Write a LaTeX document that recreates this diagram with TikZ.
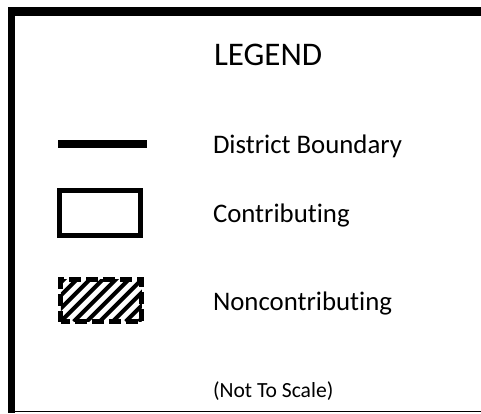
\documentclass[tikz,border=0pt]{standalone}
\usepackage{fontspec}
\setmainfont{Carlito}[Ligatures={NoCommon}]
\begin{document}
\begin{tikzpicture}[x=1pt,y=-1pt,
  every node/.style={inner sep=0pt, outer sep=0pt},
  label text/.style={anchor=base west, font=\fontsize{26.8}{30}\selectfont},
  boundary/.style={line width=8pt},
  contribbox/.style={draw, line width=5pt, minimum width=81pt, minimum height=45pt},
  noncontribbox/.style={draw, line width=5pt, dash pattern=on 12pt off 5pt, dash phase=3pt,
    minimum width=81pt, minimum height=42pt,
    path picture={\foreach \k in {-8,...,10} {\draw[line width=4pt, solid] ([xshift={\k*13pt}]path picture bounding box.south west) -- ++(70pt,70pt);}}}
]
\path[use as bounding box, fill=white] (0,0) rectangle (481,413);
% frame
\fill (8,7) rectangle (481,16);
\fill (8,7) rectangle (15,413);
\draw[line width=1.5pt] (15,411.5) -- (481,411.5);
% texts
\node[anchor=base west, font=\fontsize{33}{36}\selectfont] (title) at (214,65) {LEGEND};
\node[label text] (tb) at (213,153) {District Boundary};
\node[label text] (tc) at (213,222) {Contributing};
\node[label text] (tn) at (213,310) {Noncontributing};
\node[anchor=base west, font=\fontsize{21.6}{25}\selectfont] (scale) at (213,397) {(Not To Scale)};
% symbols
\coordinate (b1) at (58,144);
\coordinate (b2) at (147,144);
\draw[boundary] (b1) -- (b2);
\node[contribbox] (contrib) at (100,213) {};
\node[noncontribbox] (noncontrib) at (101.25,300.5) {};
\end{tikzpicture}
\end{document}
